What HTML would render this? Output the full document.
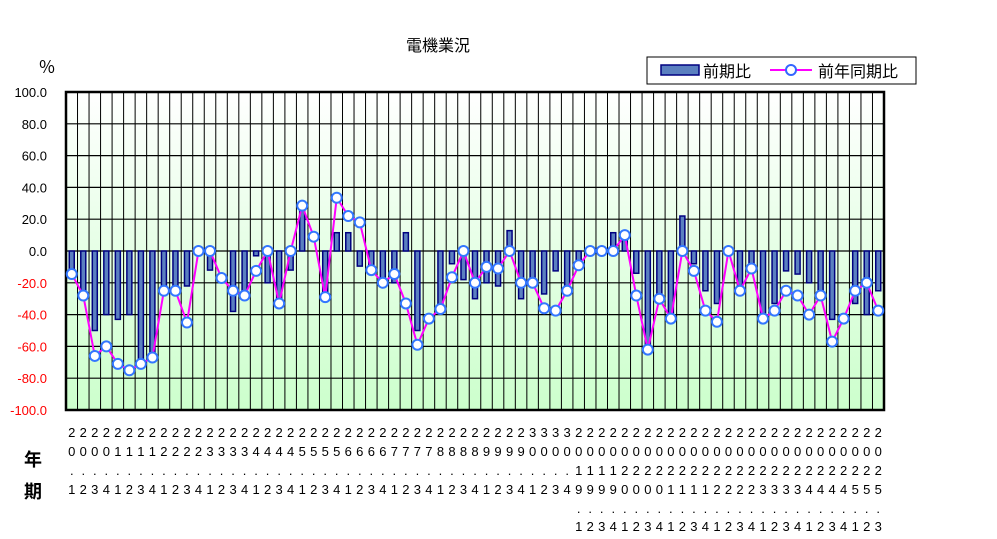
<!DOCTYPE html>
<html><head><meta charset="utf-8"><style>
body{margin:0;background:#fff;}
svg{display:block;font-family:"Liberation Sans","Noto Sans CJK JP",sans-serif;}
</style></head><body>
<svg id="c" width="997" height="539" viewBox="0 0 997 539">
<defs><linearGradient id="bg" x1="0" y1="0" x2="0" y2="1"><stop offset="0" stop-color="#ffffff"/><stop offset="1" stop-color="#ccffcc"/></linearGradient></defs>
<text x="438" y="51" font-size="16" text-anchor="middle">電機業況</text>
<text x="47" y="73" font-size="17" text-anchor="middle">％</text>
<text x="33" y="466" font-size="18" font-weight="bold" text-anchor="middle">年</text>
<text x="33" y="498" font-size="18" font-weight="bold" text-anchor="middle">期</text>
<g>
<rect x="647" y="57" width="269" height="27" fill="#fff" stroke="#000"/>
<g><rect x="661" y="65" width="38" height="10" fill="#5b80c0" stroke="#000080" stroke-width="1.5"/><text x="703" y="77" font-size="16">前期比</text></g>
<g><line x1="770" y1="70" x2="812" y2="70" stroke="#ff00ff" stroke-width="2"/><circle cx="791" cy="70" r="5" fill="#fff" stroke="#3366ff" stroke-width="2"/><text x="818" y="77" font-size="16">前年同期比</text></g>
</g>
<g id="plot"></g>
</svg>
<script>
const qoq=[-12,-25,-50,-40,-43,-40,-69,-66,-22,-22,-22,0,-12,0,-38,-28,-3,-20,-33,-12,28,0,-28,11.5,11.5,-9.5,-12,-20,-20,11.5,-50,0,-36.5,-8,-18,-30,-20,-22,12.8,-30,-18,-27,-12.5,-25,-6,0,0,11.5,8,-14,-62,-29,-42,22,-8,-25,-33,0,-22,-11,-42,-33,-12.5,-14.5,-20,-25,-43,0,-33,-40,-25];
const yoy=[-14.5,-28,-66,-60,-71,-75,-71,-67,-25,-25,-45,0,0,-17,-25,-28,-12.5,0,-33,0,28.5,9,-29,33.5,22,18,-12,-20,-14.5,-33,-59,-42.5,-36.5,-16.5,0,-20,-10,-11,0,-20,-20,-36,-37.5,-25,-9,0,0,0,10,-28,-62,-30,-42.5,0,-12.5,-37.5,-44.5,0,-25,-11,-42.5,-37.5,-25,-28,-40,-28,-57,-42.5,-25,-20,-37.5];
const categories=[];
for(let y=20;y<=30;y++)for(let q=1;q<=4;q++)categories.push(y+"."+q);
for(let y=2019;y<=2025;y++)for(let q=1;q<=4;q++){if(y===2025&&q>3)break;categories.push(y+"."+q);}
const yTicks=[100,80,60,40,20,0,-20,-40,-60,-80,-100];
const NS="http://www.w3.org/2000/svg";
const L=66,R=884,T=92,B=410,n=categories.length,cw=(R-L)/n;
const ys=v=>T+(100-v)*(B-T)/200;
const xs=i=>L+cw*(i+0.5);
const g=document.getElementById('plot');
function mk(t,a,p){const e=document.createElementNS(NS,t);for(const k in a)e.setAttribute(k,a[k]);(p||g).appendChild(e);return e;}
let e=mk('rect',{x:L,y:T,width:R-L,height:B-T,fill:'url(#bg)'});


for(let i=0;i<=n;i++){e=mk('line',{x1:L+cw*i,x2:L+cw*i,y1:T,y2:B,stroke:'#000','stroke-width':1});

}
yTicks.forEach(v=>{e=mk('line',{x1:L,x2:R,y1:ys(v),y2:ys(v),stroke:'#000','stroke-width':1.2});


const t=mk('text',{x:47,y:ys(v)+5,'font-size':13,'text-anchor':'end',fill:v<0?'#ff0000':'#000'});t.textContent=v.toFixed(1);

});
e=mk('rect',{x:L,y:T,width:R-L,height:B-T,fill:'none',stroke:'#000','stroke-width':2.5});


qoq.forEach((v,i)=>{if(v===0)return;const y0=ys(0),y1=ys(v);
e=mk('rect',{x:xs(i)-2.5,y:Math.min(y0,y1),width:5,height:Math.abs(y1-y0),fill:'#5b80c0',stroke:'#000080','stroke-width':1.5});

});
e=mk('polyline',{points:yoy.map((v,i)=>xs(i)+','+ys(v)).join(' '),fill:'none',stroke:'#ff00ff','stroke-width':2});


yoy.forEach((v,i)=>{e=mk('circle',{cx:xs(i),cy:ys(v),r:5,fill:'#fff',stroke:'#3377ff','stroke-width':2});

});
const rows=[437,456,475,494,513,531];
categories.forEach((c,i)=>{[...c].forEach((ch,k)=>{const t=mk('text',{x:xs(i),y:rows[k],'font-size':13,'text-anchor':'middle'},document.getElementById('c'));t.textContent=ch;

});});
</script>
</body></html>
